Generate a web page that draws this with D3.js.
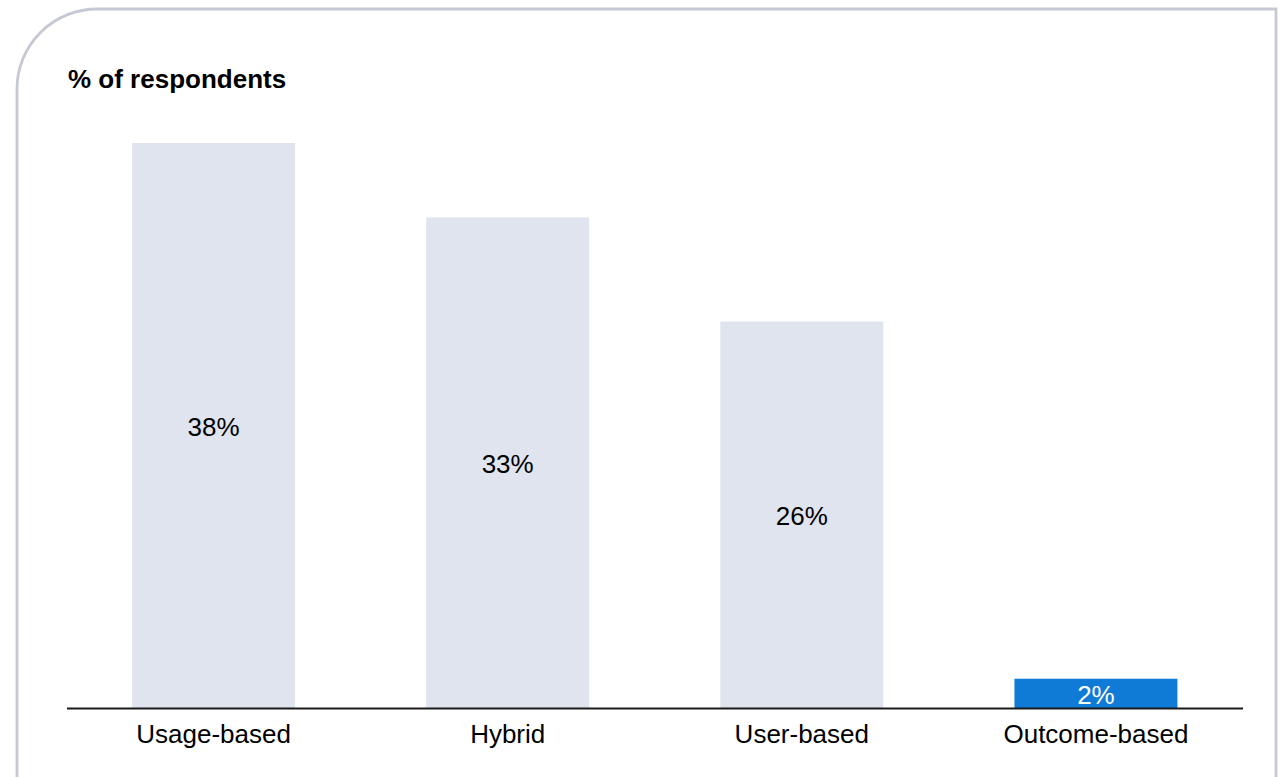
<!DOCTYPE html>
<html>
<head>
<meta charset="utf-8">
<script src="https://cdn.jsdelivr.net/npm/d3@7"></script>
<style>
  html, body { margin: 0; padding: 0; background: #ffffff; }
  svg { display: block; font-family: "Liberation Sans", Arial, sans-serif; }
</style>
</head>
<body>
<svg id="chart" width="1281" height="777"></svg>
<script>
const categories = ["Usage-based", "Hybrid", "User-based", "Outcome-based"];
const values = [38, 33, 26, 2];
const highlighted = [false, false, false, true];
const title = "% of respondents";

const svg = d3.select("#chart");
const W = 1281, H = 777;
const fontSize = 26;

// Card frame with rounded top-left corner
const frameL = 17, frameT = 9, frameR = 1276, radius = 80;
svg.append("path")
  .attr("d", `M${frameL},${H + 5} L${frameL},${frameT + radius} A${radius},${radius} 0 0 1 ${frameL + radius},${frameT} L${frameR},${frameT} L${frameR},${H + 5}`)
  .attr("fill", "none")
  .attr("stroke", "#c6c9d4")
  .attr("stroke-width", 2.8);

svg.append("text")
  .attr("x", 68)
  .attr("y", 88)
  .attr("font-size", fontSize)
  .attr("font-weight", "bold")
  .attr("fill", "#000")
  .text(title);

const x = d3.scaleBand()
  .domain(categories)
  .range([66.5, 1243])
  .paddingInner(0.446)
  .paddingOuter(0.223);

const y = d3.scaleLinear()
  .domain([0, 38])
  .range([708.5, 143]);

const bars = svg.append("g");
bars.selectAll("rect")
  .data(categories)
  .join("rect")
  .attr("x", d => x(d))
  .attr("width", x.bandwidth())
  .attr("y", (d, i) => y(values[i]))
  .attr("height", (d, i) => y(0) - y(values[i]))
  .attr("fill", (d, i) => highlighted[i] ? "#0f7bd6" : "#dfe4ee");

bars.selectAll("text")
  .data(categories)
  .join("text")
  .attr("x", d => x(d) + x.bandwidth() / 2)
  .attr("y", (d, i) => (y(values[i]) + y(0)) / 2)
  .attr("dy", "0.4em")
  .attr("text-anchor", "middle")
  .attr("font-size", fontSize)
  .attr("fill", (d, i) => highlighted[i] ? "#ffffff" : "#000000")
  .text((d, i) => values[i] + "%");

const axis = d3.axisBottom(x).tickSize(0).tickPadding(16);
const gx = svg.append("g")
  .attr("transform", `translate(0,${y(0)})`)
  .call(axis);
gx.select(".domain")
  .attr("d", `M67,0H1243`)
  .attr("stroke", "#1a1a1a")
  .attr("stroke-width", 1.8);
gx.selectAll(".tick text")
  .attr("font-size", fontSize)
  .attr("font-family", "\"Liberation Sans\", Arial, sans-serif")
  .attr("fill", "#000");
</script>
</body>
</html>
